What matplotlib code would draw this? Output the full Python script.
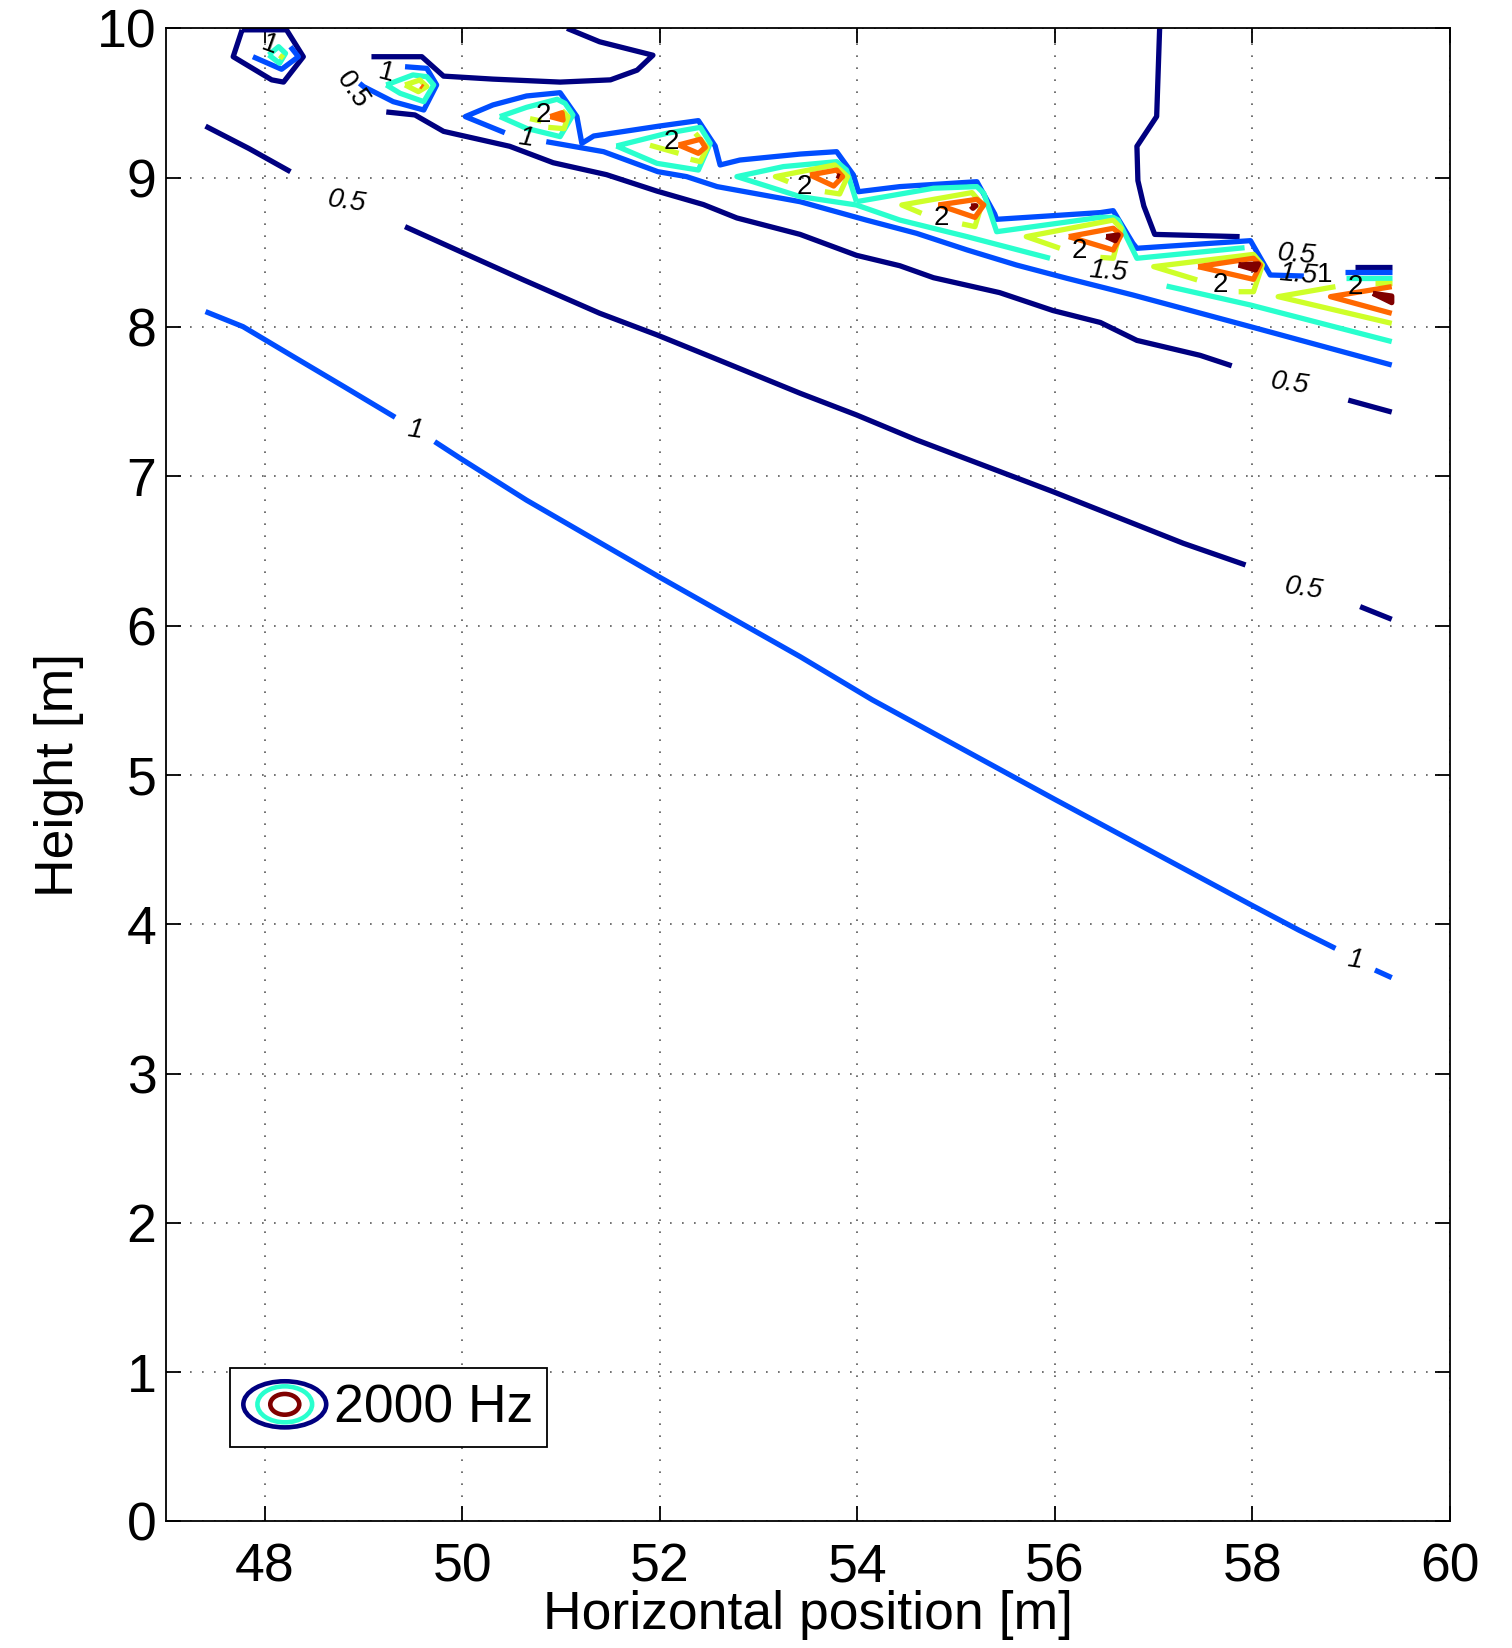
import numpy as np
import matplotlib.pyplot as plt
from matplotlib.patches import Ellipse
from matplotlib.legend_handler import HandlerBase

plt.rcParams['font.family'] = ['Liberation Sans', 'DejaVu Sans']

# contour levels (2000 Hz field), coloured with jet like the original
levels = [0.5, 1.0, 1.5, 2.0, 2.5, 3.0]

# contour polylines, one list of (x, y) pieces per level
lines_05 = [
    ([47.77, 48.22, 48.39, 48.19, 48.07, 47.68, 47.77], [9.99, 9.99, 9.81, 9.64, 9.655, 9.81, 9.99]),
    ([49.08, 49.59, 49.81, 50.31, 50.99, 51.50, 51.77, 51.93, 51.39, 51.06],
     [9.81, 9.81, 9.68, 9.66, 9.64, 9.655, 9.72, 9.82, 9.91, 10.0]),
    ([49.23, 49.52, 49.81, 50.48, 50.92, 51.46, 51.97, 52.44, 52.78, 53.42, 53.99, 54.43, 54.77,
      55.44, 55.98, 56.46, 56.83, 57.47, 57.79],
     [9.44, 9.42, 9.31, 9.21, 9.10, 9.02, 8.91, 8.82, 8.73, 8.62, 8.48, 8.41, 8.33,
      8.23, 8.11, 8.03, 7.91, 7.81, 7.74]),
    ([58.97, 59.41], [7.51, 7.43]),
    ([47.40, 47.84, 48.26], [9.345, 9.195, 9.04]),
    ([49.42, 49.98, 50.62, 51.39, 51.97, 52.51, 53.42, 53.99, 54.60, 55.98, 57.30, 57.93],
     [8.672, 8.505, 8.315, 8.092, 7.947, 7.802, 7.556, 7.411, 7.243, 6.897, 6.551, 6.406]),
    ([59.09, 59.41], [6.127, 6.042]),
    ([57.06, 57.03, 56.83, 56.84, 56.90, 57.01, 57.87], [10.0, 9.41, 9.21, 8.98, 8.81, 8.62, 8.605]),
    ([59.04, 59.41], [8.404, 8.404]),
]

lines_10 = [
    ([47.88, 48.17, 48.34, 48.26], [9.81, 9.726, 9.81, 9.877]),
    ([48.96, 49.00, 49.30, 49.61, 49.74, 49.64, 49.42], [9.632, 9.61, 9.509, 9.453, 9.621, 9.732, 9.743]),
    ([50.43, 50.03, 50.31, 50.65, 50.99, 51.16, 51.21, 51.33, 52.00, 52.39, 52.56, 52.61, 52.81,
      53.42, 53.79, 53.96, 54.01, 54.43, 55.21, 55.39, 55.41, 56.46, 56.59, 56.79, 56.83, 57.98,
      58.18, 58.52],
     [9.301, 9.409, 9.487, 9.547, 9.569, 9.409, 9.23, 9.279, 9.346, 9.382, 9.212, 9.085, 9.118,
      9.158, 9.174, 9.018, 8.906, 8.94, 8.973, 8.757, 8.721, 8.766, 8.779, 8.56, 8.527, 8.578,
      8.348, 8.341]),
    ([50.85, 51.43, 51.98, 52.27, 52.58, 53.42, 54.09, 54.60, 55.11, 55.61, 56.12, 56.79, 57.98, 59.41],
     [9.241, 9.174, 9.04, 9.007, 8.94, 8.839, 8.716, 8.627, 8.516, 8.415, 8.326, 8.214, 8.002, 7.745]),
    ([58.94, 59.41], [8.366, 8.366]),
    ([47.40, 47.78, 48.29, 48.80, 49.32], [8.103, 8.002, 7.801, 7.601, 7.395]),
    ([49.72, 49.98, 50.65, 51.99, 53.42, 54.15, 56.01, 57.99, 58.47, 58.84],
     [7.232, 7.12, 6.84, 6.327, 5.792, 5.503, 4.832, 4.128, 3.96, 3.838]),
    ([59.24, 59.41], [3.693, 3.642]),
]

lines_15 = [
    ([48.04, 48.14, 48.21, 48.15, 48.04], [9.822, 9.877, 9.833, 9.766, 9.822]),
    ([49.23, 49.50, 49.64, 49.71, 49.61, 49.37, 49.23], [9.621, 9.688, 9.676, 9.621, 9.509, 9.565, 9.621]),
    ([50.38, 50.65, 50.96, 51.04, 51.12, 50.99, 50.65, 50.38], [9.409, 9.471, 9.525, 9.498, 9.42, 9.275, 9.33, 9.409]),
    ([51.56, 52.07, 52.41, 52.51, 52.39, 51.97, 51.56], [9.212, 9.297, 9.337, 9.23, 9.051, 9.096, 9.212]),
    ([53.99, 53.89, 53.79, 53.25, 52.78, 53.42, 53.99, 54.43, 55.11, 55.95],
     [8.839, 9.051, 9.107, 9.074, 9.007, 8.873, 8.817, 8.716, 8.605, 8.46]),
    ([53.99, 54.77, 55.21, 55.28, 55.41, 56.46, 56.59, 56.64, 56.83, 57.92],
     [8.839, 8.929, 8.94, 8.895, 8.638, 8.734, 8.734, 8.716, 8.46, 8.531]),
    ([57.13, 57.98, 59.41], [8.274, 8.147, 7.902]),
    ([58.95, 59.41], [8.326, 8.326]),
]

lines_20 = [
    ([48.15, 48.19], [9.82, 9.80]),
    ([49.42, 49.57, 49.64, 49.555, 49.42], [9.621, 9.654, 9.61, 9.576, 9.621]),
    ([50.685, 50.80], [9.395, 9.379]),
    ([50.87, 51.03, 51.07, 51.01], [9.337, 9.328, 9.409, 9.449]),
    ([51.90, 52.19], [9.217, 9.163]),
    ([52.36, 52.48, 52.41, 52.31], [9.297, 9.201, 9.107, 9.123]),
    ([53.30, 53.17, 53.77, 53.90, 53.82, 53.67], [8.973, 9.007, 9.085, 9.007, 8.891, 8.906]),
    ([54.65, 54.45, 55.16, 55.26, 55.19, 55.06], [8.761, 8.817, 8.90, 8.824, 8.672, 8.69]),
    ([56.05, 55.71, 56.59, 56.67, 56.59, 56.46], [8.527, 8.605, 8.716, 8.661, 8.46, 8.466]),
    ([57.44, 57.00, 58.01, 58.10, 58.01, 57.86], [8.315, 8.404, 8.486, 8.415, 8.236, 8.236]),
    ([59.24, 59.41], [8.292, 8.292]),
    ([58.84, 58.26, 59.41], [8.27, 8.203, 8.024]),
]

lines_25 = [
    ([49.58, 49.60], [9.615, 9.605]),
    ([50.89, 51.01, 51.02, 50.89], [9.409, 9.435, 9.386, 9.409]),
    ([52.19, 52.41, 52.46, 52.39, 52.19], [9.219, 9.257, 9.203, 9.163, 9.219]),
    ([53.52, 53.79, 53.85, 53.76, 53.52], [9.018, 9.051, 9.007, 8.944, 9.018]),
    ([54.82, 55.21, 55.28, 55.19, 54.82], [8.817, 8.855, 8.817, 8.734, 8.817]),
    ([56.14, 56.59, 56.67, 56.59, 56.14], [8.605, 8.661, 8.616, 8.515, 8.605]),
    ([57.45, 58.01, 58.08, 58.01, 57.45], [8.404, 8.46, 8.415, 8.319, 8.404]),
    ([59.41, 58.79, 59.41], [8.27, 8.203, 8.091]),
]

lines_30 = [
    ([53.79, 53.82], [9.015, 9.007]),
    ([55.15, 55.20, 55.17, 55.15], [8.81, 8.812, 8.795, 8.81]),
    ([56.52, 56.64, 56.61, 56.52], [8.605, 8.616, 8.578, 8.605]),
    ([57.86, 58.06, 58.03, 57.86], [8.415, 8.422, 8.382, 8.415]),
    ([59.22, 59.41, 59.41, 59.22], [8.225, 8.207, 8.163, 8.225]),
]

# inline contour labels
label_text = ["1", "0.5", "1", "0.5", "2", "1", "1", "2", "2", "2", "2", "1.5", "2",
              "0.5", "1.5", "1", "2", "0.5", "0.5", "1"]
label_x = [48.05, 48.89, 49.23, 48.83, 50.82, 50.645, 49.52, 52.12, 53.46, 54.85, 56.25, 56.54,
           57.67, 58.45, 58.46, 58.73, 59.04, 58.38, 58.52, 59.04]
label_y = [9.889, 9.587, 9.699, 8.839, 9.42, 9.263, 7.31, 9.241, 8.94, 8.728, 8.51, 8.37,
           8.281, 8.482, 8.348, 8.348, 8.27, 7.623, 6.25, 3.76]
label_rot = [-20, -56, -15, -8, 0, -8, -8, 0, 0, 0, 0, -5, 0, -5, -5, 0, 0, -8, -8, -8]
label_italic = [False, False, False, True, False, True, True, False, False, False, False, True,
                False, True, True, False, False, True, True, True]

xticks = [48, 50, 52, 54, 56, 58, 60]
yticks = list(range(0, 11))

colors = plt.cm.jet(np.linspace(0, 1, len(levels)))
all_lines = [lines_05, lines_10, lines_15, lines_20, lines_25, lines_30]
FS = 38.5


class RingsProxy:
    pass


class RingsHandler(HandlerBase):
    def create_artists(self, legend, orig_handle, xdescent, ydescent, width, height, fontsize, trans):
        cx = 0.5 * width - xdescent
        cy = 0.5 * height - ydescent
        rings = []
        for wf, hf, c in [(1.0, 1.0, colors[0]), (0.66, 0.78, colors[2]), (0.35, 0.45, colors[5])]:
            rings.append(Ellipse((cx, cy), width * wf, height * hf, fill=False,
                                 edgecolor=c, lw=3.3, transform=trans))
        return rings


fig = plt.figure(figsize=(15.12, 16.48), dpi=100)
ax = fig.add_axes([0.1098, 0.0768, 0.8492, 0.906])

for pieces, col in zip(all_lines, colors):
    for xs, ys in pieces:
        ax.plot(xs, ys, color=col, lw=3.8, solid_joinstyle='round', solid_capstyle='butt')

for t, x, y, r, it in zip(label_text, label_x, label_y, label_rot, label_italic):
    ax.text(x, y, t, fontsize=20, rotation=r, ha='center', va='center',
            style='italic' if it else 'normal', rotation_mode='anchor')

ax.set_xlim(47, 60)
ax.set_ylim(0, 10)
ax.set_xticks(xticks)
ax.set_yticks(yticks)
ax.grid(True, color='0.35', linestyle=(0, (1, 6.2)), lw=1.2)
ax.tick_params(direction='in', length=11, width=1.3, top=True, right=True, labelsize=FS)
ax.tick_params(axis='x', pad=15)
ax.tick_params(axis='y', pad=7)
for s in ax.spines.values():
    s.set_linewidth(1.3)

ax.set_xlabel('Horizontal position [m]', fontsize=FS, va='center')
ax.xaxis.set_label_coords(0.5, -0.0625)
ax.set_ylabel('Height [m]', fontsize=FS, va='center')
ax.yaxis.set_label_coords(-0.083, 0.5)

leg = ax.legend([RingsProxy()], ['2000 Hz'], handler_map={RingsProxy: RingsHandler()},
                loc='lower left', bbox_to_anchor=(0.0498, 0.0498), borderaxespad=0,
                fontsize=FS, handlelength=1.55, handleheight=0.95, handletextpad=0.15,
                borderpad=0.25, fancybox=False, framealpha=1, edgecolor='k')
leg.get_frame().set_linewidth(1.3)

fig.savefig('out.png', dpi=100)
